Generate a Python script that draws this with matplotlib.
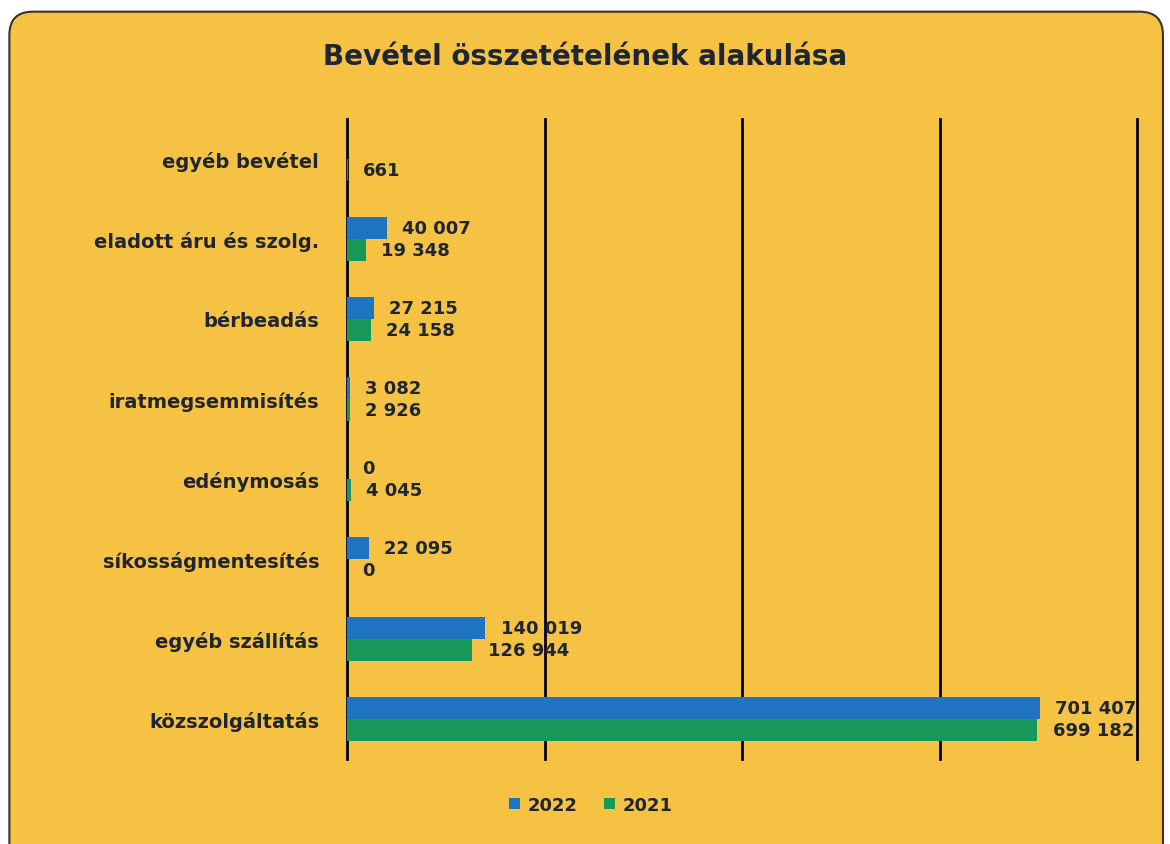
import numpy as np
import matplotlib.pyplot as plt
from matplotlib.patches import FancyBboxPatch

categories = [
    "egyéb bevétel",
    "eladott áru és szolg.",
    "bérbeadás",
    "iratmegsemmisítés",
    "edénymosás",
    "síkosságmentesítés",
    "egyéb szállítás",
    "közszolgáltatás",
]
values_2022 = [np.nan, 40007, 27215, 3082, 0, 22095, 140019, 701407]
values_2021 = [661, 19348, 24158, 2926, 4045, 0, 126944, 699182]
series_labels = ["2022", "2021"]

BG = "#f6c244"
BLUE = "#1f74c0"
GREEN = "#17975a"
TEXT = "#1e2633"


def fmt(v):
    return f"{int(v):,}".replace(",", " ")


fig = plt.figure(figsize=(11.7, 8.45), dpi=100, facecolor="white")
frame = FancyBboxPatch((0.008, -0.05), 0.986, 1.035, transform=fig.transFigure,
                       boxstyle="round,pad=0,rounding_size=0.02",
                       facecolor=BG, edgecolor="#3a3328", linewidth=1.5,
                       mutation_aspect=1.38, zorder=-1)
fig.patches.append(frame)

ax = fig.add_axes([0.2966, 0.1006, 0.6752, 0.7574], zorder=1)
ax.set_facecolor("none")

y = np.arange(len(categories))
h = 0.275
ax.barh(y - h / 2, values_2022, height=h, color=BLUE, label=series_labels[0], zorder=2)
ax.barh(y + h / 2, values_2021, height=h, color=GREEN, label=series_labels[1], zorder=2)

for yi, v in zip(y, values_2022):
    if not np.isnan(v):
        ax.annotate(fmt(v), (v, yi - h / 2), xytext=(11, 0), textcoords="offset points",
                    va="center", ha="left", fontsize=13, fontweight="bold", color=TEXT, zorder=4)
for yi, v in zip(y, values_2021):
    if not np.isnan(v):
        ax.annotate(fmt(v), (v, yi + h / 2), xytext=(11, 0), textcoords="offset points",
                    va="center", ha="left", fontsize=13, fontweight="bold", color=TEXT, zorder=4)

ax.set_xlim(0, 800000)
ax.set_ylim(len(categories) - 0.5, -0.5)
ax.set_xticks([0, 200000, 400000, 600000, 800000])
ax.set_xticklabels([])
ax.tick_params(axis="x", length=0)
ax.tick_params(axis="y", length=0, pad=20)
ax.set_yticks(y)
ax.set_yticklabels(categories, fontsize=14, fontweight="bold", color=TEXT)
ax.grid(axis="x", color="black", linewidth=2)
for gl in ax.xaxis.get_gridlines():
    gl.set_clip_on(False)
ax.set_axisbelow(True)
for s in ax.spines.values():
    s.set_visible(False)

fig.text(0.5, 0.932, "Bevétel összetételének alakulása", ha="center", va="center",
         fontsize=20, fontweight="bold", color=TEXT)

fig.legend(loc="center", bbox_to_anchor=(0.505, 0.046), ncol=2, frameon=False,
           handlelength=0.6, handleheight=0.6, handletextpad=0.4, columnspacing=1.5,
           prop={"size": 13, "weight": "bold"}, labelcolor=TEXT)

fig.savefig("out.png", dpi=100, facecolor=fig.get_facecolor())
